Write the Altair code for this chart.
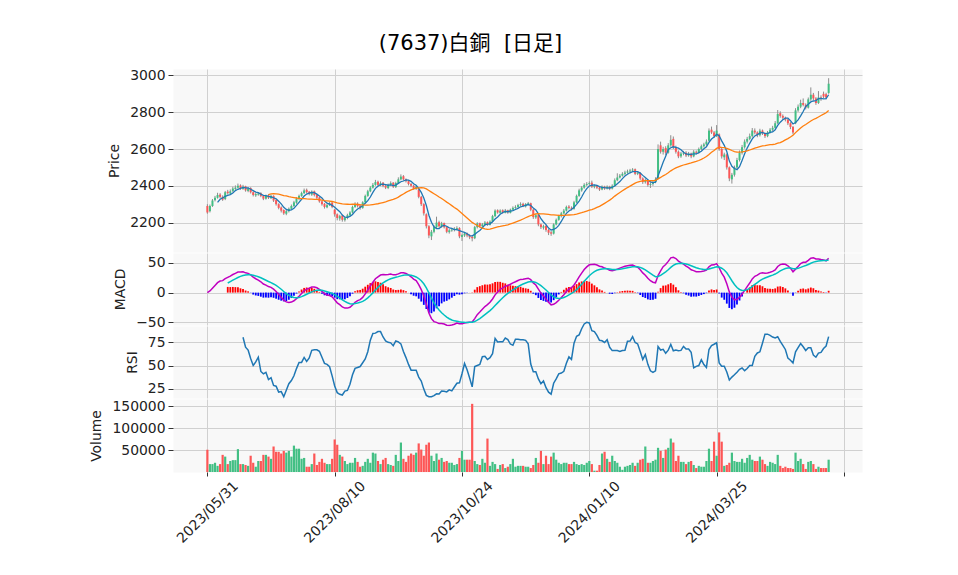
import json
import altair as alt
import pandas as pd

# ---------------- data ----------------
tick_pos = [0, 50, 100, 150, 200, 250]
tick_labels = ["2023/05/31", "2023/08/10", "2023/10/24", "2024/01/10", "2024/03/25", ""]

opens = [
    2290, 2262, 2290, 2322, 2335, 2352, 2340, 2328, 2368, 2358,
    2372, 2383, 2390, 2402, 2383, 2397, 2372, 2388, 2365, 2348,
    2352, 2360, 2345, 2330, 2348, 2333, 2345, 2322, 2300, 2282,
    2268, 2248, 2262, 2275, 2290, 2308, 2330, 2345, 2360, 2378,
    2368, 2352, 2370, 2350, 2337, 2315, 2302, 2283, 2295, 2308,
    2270, 2245, 2222, 2238, 2213, 2225, 2240, 2255, 2285, 2302,
    2292, 2280, 2310, 2345, 2370, 2390, 2405, 2422, 2403, 2417,
    2400, 2388, 2405, 2417, 2393, 2415, 2435, 2452, 2435, 2425,
    2410, 2400, 2383, 2380, 2340, 2300, 2245, 2180, 2125, 2150,
    2175, 2202, 2178, 2197, 2175, 2148, 2157, 2160, 2165, 2170,
    2122, 2130, 2142, 2130, 2122, 2115, 2175, 2197, 2180, 2190,
    2202, 2188, 2205, 2235, 2267, 2253, 2267, 2253, 2267, 2253,
    2270, 2280, 2285, 2295, 2302, 2288, 2300, 2305, 2270, 2228,
    2240, 2190, 2172, 2182, 2160, 2147, 2140, 2190, 2215, 2235,
    2250, 2265, 2287, 2280, 2275, 2310, 2345, 2375, 2390, 2405,
    2410, 2417, 2393, 2398, 2390, 2380, 2395, 2385, 2395, 2385,
    2400, 2430, 2445, 2455, 2465, 2472, 2478, 2483, 2490, 2465,
    2470, 2440, 2420, 2430, 2405, 2410, 2420, 2440, 2620, 2585,
    2605, 2580, 2620, 2655, 2610, 2585, 2560, 2575, 2580, 2565,
    2575, 2560, 2585, 2580, 2600, 2615, 2625, 2645, 2705, 2690,
    2670, 2680, 2600, 2555, 2570, 2500, 2435, 2460, 2500, 2540,
    2580, 2610, 2640, 2655, 2670, 2700, 2690, 2675, 2700, 2685,
    2670, 2690, 2705, 2715, 2740, 2795, 2780, 2770, 2760, 2740,
    2720, 2740, 2810, 2830, 2850, 2840, 2825, 2870, 2895, 2875,
    2850, 2880, 2900, 2898, 2905,
]
highs = [
    2300, 2298, 2328, 2345, 2362, 2360, 2348, 2372, 2378, 2380,
    2395, 2402, 2412, 2408, 2405, 2400, 2392, 2392, 2370, 2362,
    2366, 2365, 2350, 2352, 2355, 2352, 2348, 2325, 2305, 2288,
    2272, 2270, 2282, 2298, 2318, 2338, 2352, 2368, 2385, 2385,
    2372, 2375, 2374, 2355, 2340, 2320, 2306, 2302, 2314, 2312,
    2275, 2250, 2242, 2242, 2232, 2248, 2262, 2292, 2310, 2310,
    2298, 2316, 2352, 2378, 2398, 2415, 2432, 2428, 2424, 2420,
    2406, 2412, 2424, 2420, 2422, 2446, 2462, 2458, 2440, 2430,
    2416, 2405, 2402, 2384, 2345, 2305, 2250, 2186, 2160, 2185,
    2232, 2210, 2204, 2200, 2180, 2165, 2170, 2175, 2180, 2175,
    2140, 2148, 2146, 2136, 2130, 2182, 2202, 2200, 2198, 2208,
    2206, 2212, 2242, 2272, 2272, 2272, 2272, 2274, 2270, 2276,
    2288, 2294, 2302, 2310, 2308, 2306, 2312, 2308, 2275, 2248,
    2244, 2195, 2188, 2186, 2165, 2155, 2196, 2222, 2242, 2258,
    2274, 2292, 2295, 2288, 2318, 2352, 2384, 2398, 2414, 2420,
    2424, 2428, 2406, 2404, 2394, 2402, 2400, 2402, 2400, 2408,
    2440, 2468, 2464, 2474, 2482, 2488, 2492, 2496, 2494, 2478,
    2474, 2446, 2440, 2434, 2418, 2428, 2446, 2625, 2640, 2612,
    2615, 2632, 2675, 2668, 2618, 2592, 2584, 2590, 2588, 2584,
    2580, 2594, 2592, 2608, 2624, 2634, 2652, 2712, 2722, 2698,
    2730, 2685, 2606, 2580, 2575, 2505, 2470, 2510, 2552, 2592,
    2622, 2652, 2666, 2684, 2714, 2712, 2696, 2710, 2706, 2690,
    2698, 2714, 2726, 2752, 2812, 2805, 2788, 2776, 2766, 2746,
    2725, 2822, 2842, 2868, 2875, 2848, 2880, 2935, 2905, 2882,
    2915, 2892, 2912, 2906, 2985,
]
lows = [
    2248, 2255, 2285, 2315, 2330, 2332, 2318, 2322, 2352, 2352,
    2365, 2378, 2385, 2378, 2378, 2368, 2365, 2358, 2342, 2340,
    2346, 2338, 2322, 2325, 2328, 2328, 2312, 2292, 2272, 2255,
    2242, 2240, 2255, 2270, 2285, 2302, 2322, 2340, 2355, 2358,
    2348, 2345, 2342, 2328, 2308, 2292, 2276, 2278, 2290, 2278,
    2232, 2212, 2210, 2205, 2205, 2218, 2235, 2250, 2280, 2282,
    2270, 2275, 2305, 2340, 2365, 2385, 2400, 2398, 2398, 2392,
    2382, 2382, 2400, 2388, 2388, 2410, 2430, 2428, 2418, 2402,
    2392, 2378, 2378, 2332, 2290, 2238, 2168, 2115, 2105, 2142,
    2170, 2172, 2172, 2168, 2142, 2140, 2150, 2152, 2158, 2115,
    2100, 2122, 2120, 2110, 2098, 2110, 2168, 2172, 2175, 2184,
    2182, 2184, 2200, 2230, 2248, 2248, 2248, 2250, 2248, 2250,
    2265, 2275, 2280, 2290, 2284, 2282, 2295, 2262, 2220, 2220,
    2180, 2165, 2162, 2150, 2132, 2128, 2135, 2185, 2210, 2228,
    2245, 2260, 2272, 2266, 2270, 2305, 2340, 2368, 2384, 2398,
    2402, 2388, 2386, 2382, 2372, 2376, 2378, 2380, 2376, 2380,
    2396, 2425, 2440, 2450, 2458, 2466, 2470, 2476, 2458, 2458,
    2432, 2410, 2412, 2395, 2388, 2400, 2414, 2436, 2575, 2570,
    2565, 2575, 2612, 2600, 2575, 2550, 2552, 2566, 2556, 2558,
    2550, 2555, 2570, 2575, 2594, 2608, 2618, 2640, 2682, 2660,
    2665, 2590, 2548, 2540, 2488, 2425, 2412, 2450, 2492, 2532,
    2570, 2602, 2630, 2648, 2662, 2680, 2664, 2668, 2676, 2660,
    2664, 2684, 2698, 2710, 2735, 2770, 2760, 2750, 2730, 2708,
    2680, 2735, 2802, 2822, 2832, 2815, 2820, 2862, 2866, 2840,
    2845, 2862, 2876, 2870, 2900,
]
closes = [
    2255, 2290, 2320, 2335, 2350, 2340, 2325, 2365, 2360, 2370,
    2385, 2390, 2400, 2385, 2395, 2375, 2385, 2365, 2350, 2355,
    2358, 2345, 2330, 2345, 2335, 2345, 2320, 2300, 2280, 2265,
    2250, 2262, 2275, 2290, 2310, 2330, 2345, 2360, 2375, 2365,
    2355, 2368, 2350, 2335, 2315, 2300, 2285, 2295, 2305, 2285,
    2245, 2225, 2235, 2215, 2225, 2240, 2255, 2285, 2300, 2290,
    2280, 2310, 2345, 2370, 2390, 2405, 2420, 2405, 2415, 2400,
    2390, 2405, 2415, 2395, 2415, 2435, 2450, 2435, 2425, 2410,
    2400, 2385, 2395, 2340, 2300, 2250, 2180, 2130, 2150, 2175,
    2200, 2180, 2195, 2175, 2150, 2158, 2162, 2166, 2170, 2125,
    2132, 2140, 2130, 2120, 2115, 2175, 2195, 2180, 2190, 2200,
    2190, 2205, 2235, 2265, 2255, 2265, 2255, 2265, 2255, 2270,
    2280, 2285, 2295, 2300, 2290, 2300, 2305, 2270, 2230, 2240,
    2190, 2175, 2180, 2160, 2145, 2140, 2190, 2215, 2235, 2250,
    2265, 2285, 2280, 2275, 2310, 2345, 2375, 2390, 2405, 2410,
    2415, 2395, 2398, 2390, 2380, 2395, 2385, 2395, 2385, 2400,
    2430, 2445, 2455, 2465, 2472, 2478, 2483, 2488, 2465, 2470,
    2440, 2420, 2430, 2405, 2410, 2420, 2435, 2600, 2585, 2600,
    2580, 2620, 2650, 2610, 2585, 2560, 2575, 2580, 2565, 2575,
    2560, 2585, 2580, 2600, 2615, 2625, 2640, 2700, 2690, 2670,
    2700, 2600, 2560, 2570, 2500, 2440, 2460, 2500, 2540, 2580,
    2610, 2640, 2655, 2670, 2700, 2690, 2675, 2700, 2685, 2670,
    2690, 2705, 2715, 2740, 2790, 2780, 2770, 2760, 2740, 2720,
    2690, 2810, 2830, 2850, 2840, 2825, 2870, 2895, 2875, 2850,
    2880, 2875, 2885, 2880, 2955,
]
volumes = [
    50700, 18000, 18000, 21000, 14000, 18000, 39000, 35000, 18000, 25000,
    27000, 27000, 52000, 18000, 18000, 16000, 14000, 37000, 21000, 12000,
    25000, 25000, 39000, 39000, 35000, 30000, 58000, 46000, 46000, 42000,
    48000, 44000, 48000, 35000, 60000, 53000, 53000, 30000, 32000, 12000,
    12000, 18000, 42000, 16000, 23000, 30000, 21000, 18000, 18000, 30000,
    74000, 62000, 39000, 35000, 25000, 18000, 21000, 21000, 32000, 23000,
    12000, 14000, 23000, 30000, 21000, 44000, 42000, 25000, 18000, 28000,
    32000, 18000, 16000, 14000, 39000, 25000, 67000, 30000, 23000, 37000,
    42000, 39000, 44000, 65000, 51000, 37000, 62000, 67000, 37000, 25000,
    42000, 28000, 32000, 23000, 25000, 21000, 21000, 16000, 18000, 32000,
    48000, 28000, 28000, 28000, 155000, 25000, 18000, 16000, 30000, 21000,
    76000, 14000, 23000, 18000, 7000, 16000, 18000, 9000, 12000, 18000,
    30000, 12000, 14000, 14000, 14000, 12000, 12000, 9000, 16000, 32000,
    21000, 48000, 18000, 37000, 18000, 35000, 44000, 28000, 21000, 18000,
    21000, 21000, 18000, 18000, 23000, 18000, 16000, 18000, 16000, 21000,
    25000, 18000, 3000, 3000, 16000, 42000, 46000, 30000, 23000, 37000,
    25000, 21000, 12000, 5000, 12000, 14000, 16000, 21000, 14000, 21000,
    28000, 30000, 58000, 21000, 21000, 25000, 28000, 55000, 48000, 32000,
    51000, 55000, 76000, 67000, 25000, 37000, 23000, 23000, 18000, 23000,
    25000, 16000, 9000, 14000, 12000, 12000, 25000, 53000, 25000, 69000,
    37000, 90000, 69000, 14000, 16000, 21000, 44000, 25000, 23000, 23000,
    30000, 21000, 32000, 39000, 28000, 25000, 25000, 35000, 28000, 18000,
    14000, 23000, 21000, 18000, 39000, 14000, 9000, 12000, 9000, 9000,
    7000, 44000, 25000, 30000, 18000, 7000, 23000, 25000, 18000, 7000,
    12000, 9000, 9000, 9000, 28000,
]

# ---------------- indicators computed from the read prices ----------------
n = len(closes)
df = pd.DataFrame({"i": list(range(n)), "O": opens, "H": highs, "L": lows,
                   "C": closes, "V": volumes})
c = df["C"].astype(float)
df["ma5"] = c.rolling(5).mean()
df["ma25"] = c.rolling(25).mean()
ema12 = c.ewm(span=12, adjust=False).mean()
ema26 = c.ewm(span=26, adjust=False).mean()
df["macd"] = ema12 - ema26
df["signal"] = df["macd"].ewm(span=9, adjust=False, min_periods=9).mean()
df["hist"] = df["macd"] - df["signal"]
d = c.diff()
gain = d.clip(lower=0).rolling(14).mean()
loss = (-d.clip(upper=0)).rolling(14).mean()
df["rsi"] = 100 - 100 / (1 + gain / loss)

UP = "#42bf84"
DOWN = "#fd5656"
W = 689

xscale = alt.Scale(domain=[-13.5, 257.1], nice=False, zero=False, padding=0)
grid_x = alt.Axis(values=tick_pos, labels=False, ticks=False, domain=False,
                  title=None, grid=True)
label_expr = json.dumps(tick_labels) + "[round(datum.value / 50)]"
bottom_x = alt.Axis(values=tick_pos, labelExpr=label_expr, labelAngle=315,
                    labelAlign="center", labelBaseline="middle", labelPadding=36,
                    labelOverlap=False, labelFlush=False, tickSize=4,
                    title=None, grid=True, domain=False)


def X(axis):
    return alt.X("i:Q", scale=xscale, axis=axis)


base = alt.Chart(df)
updown = alt.condition("datum.C >= datum.O", alt.value(UP), alt.value(DOWN))

# Price panel
py = alt.Scale(domain=[2040, 3035], nice=False, zero=False, padding=0)
pax = alt.Axis(values=[2200, 2400, 2600, 2800, 3000], format="d", title="Price", grid=True)
wick = base.mark_rule(color="#8c8c8c", strokeWidth=1).encode(
    x=X(grid_x), y=alt.Y("L:Q", scale=py, axis=pax), y2="H:Q")
body = base.mark_bar(size=2).encode(
    x=X(grid_x), y=alt.Y("O:Q", scale=py, axis=pax), y2="C:Q", color=updown)
ma5 = base.mark_line(color="#1f77b4", strokeWidth=1.3).encode(
    x=X(grid_x), y=alt.Y("ma5:Q", scale=py, axis=pax))
ma25 = base.mark_line(color="#ff7f0e", strokeWidth=1.3).encode(
    x=X(grid_x), y=alt.Y("ma25:Q", scale=py, axis=pax))
price = alt.layer(wick, body, ma5, ma25).properties(width=W, height=183)

# MACD panel
my = alt.Scale(domain=[-54.5, 66.7], nice=False, zero=False, padding=0)
max_ = alt.Axis(values=[-50, 0, 50], format="d", title="MACD", grid=True)
hist = base.mark_bar(size=1.8).encode(
    x=X(grid_x), y=alt.Y("hist:Q", scale=my, axis=max_), y2=alt.datum(0),
    color=alt.condition("datum.hist >= 0", alt.value("#ff0000"), alt.value("#0000ff")))
macd_line = base.mark_line(color="#c000c0", strokeWidth=1.5).encode(
    x=X(grid_x), y=alt.Y("macd:Q", scale=my, axis=max_))
sig_line = base.mark_line(color="#00c0c0", strokeWidth=1.5).encode(
    x=X(grid_x), y=alt.Y("signal:Q", scale=my, axis=max_))
macd = alt.layer(hist, macd_line, sig_line).properties(width=W, height=72)

# RSI panel
ry = alt.Scale(domain=[15, 92.6], nice=False, zero=False, padding=0)
rax = alt.Axis(values=[25, 50, 75], format="d", title="RSI", grid=True)
rsi = base.mark_line(color="#1f77b4", strokeWidth=1.5).encode(
    x=X(grid_x), y=alt.Y("rsi:Q", scale=ry, axis=rax)).properties(width=W, height=72)

# Volume panel
vy = alt.Scale(domain=[0, 166000], nice=False, zero=False, padding=0)
vax = alt.Axis(values=[50000, 100000, 150000], format="d", title="Volume", grid=True)
vol = base.mark_bar(size=2.2).encode(
    x=X(bottom_x), y=alt.Y("V:Q", scale=vy, axis=vax), y2=alt.datum(0),
    color=updown).properties(width=W, height=73)

chart = alt.vconcat(price, macd, rsi, vol, spacing=1, bounds="flush").resolve_scale(
    x="independent", y="independent"
).properties(
    title=alt.TitleParams(text="(7637)白銅\u00a0\u00a0[日足]",
                          font="DejaVu Sans, Noto Sans CJK JP",
                          fontSize=21, fontWeight="normal", color="#000000",
                          anchor="middle", frame="group", dx=-47, offset=14),
    padding={"left": 81, "top": 24, "right": 10, "bottom": 10},
    background="white",
).configure_view(
    fill="#f8f8f8", stroke="transparent"
).configure_axis(
    labelFont="DejaVu Sans", labelFontSize=13.9, labelColor="#222222",
    titleFont="DejaVu Sans", titleFontSize=13.9, titleFontWeight="normal",
    titleColor="#222222", gridColor="#d0d0d0", gridWidth=1, tickColor="#333333",
    tickSize=5, labelPadding=3, titlePadding=8, domain=False, minExtent=0,
)

chart.save("out.html", embed_options={"renderer": "svg", "actions": False})
